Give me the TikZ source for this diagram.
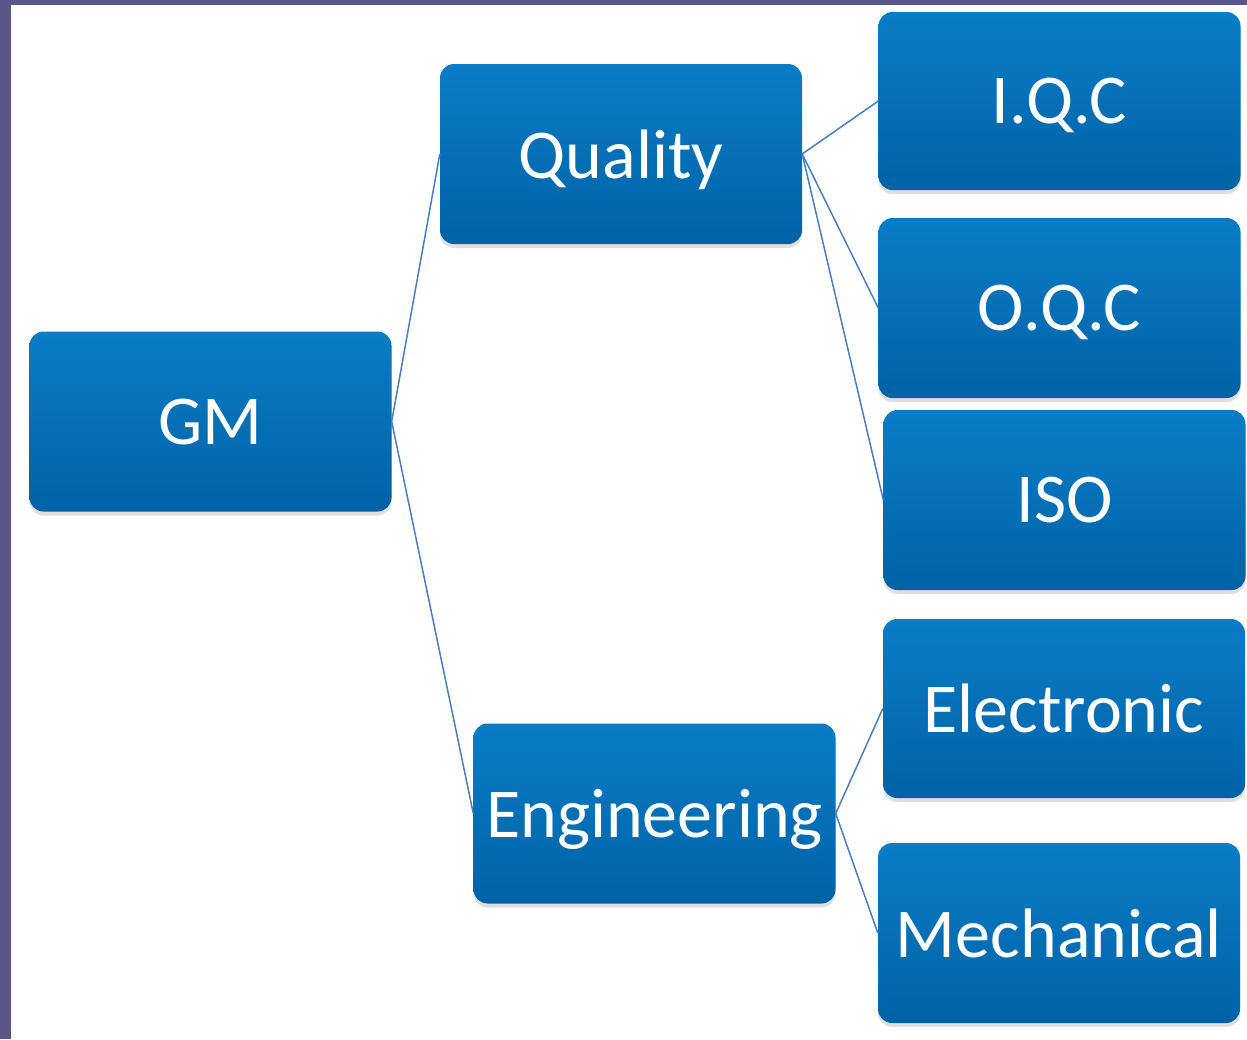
\documentclass[tikz,border=0pt]{standalone}
\usepackage{fontspec}
\setmainfont{Carlito}
\usetikzlibrary{shadows}
\definecolor{bgpurple}{HTML}{5A568A}
\definecolor{boxtop}{HTML}{0A7DC6}
\definecolor{boxbot}{HTML}{0062A6}
\definecolor{linkblue}{HTML}{4A7FBF}
\tikzset{
  orgbox/.style={rectangle, rounded corners=14pt, minimum width=#1, minimum height=180pt,
    inner sep=0pt, top color=boxtop, bottom color=boxbot, draw=none,
    text=white, font=\fontsize{70}{78}\selectfont, text depth=0pt,
    drop shadow={opacity=0.25, shadow xshift=0pt, shadow yshift=-4pt}},
  orgbox/.default=362pt,
  link/.style={draw=linkblue, line width=1.5pt}
}
\begin{document}
\begin{tikzpicture}[x=1pt,y=-1pt]
\useasboundingbox (0,0) rectangle (1247,1039);
\fill[bgpurple] (0,0) rectangle (1247,1039);
\fill[white] (11,5) rectangle (1247,1039);
\node[orgbox] (gm) at (210.5,421.5) {GM};
\node[orgbox] (quality) at (621,154) {Quality};
\node[orgbox] (eng) at (654.5,813.5) {Engineering};
\node[orgbox, minimum height=178pt] (iqc) at (1059.5,101) {I.Q.C};
\node[orgbox] (oqc) at (1059.5,308) {O.Q.C};
\node[orgbox] (iso) at (1064.5,500) {ISO};
\node[orgbox, minimum height=179pt] (elec) at (1064,708.5) {Electronic};
\node[orgbox] (mech) at (1059,933) {Mechanical};
\draw[link] (gm.east) -- (quality.west);
\draw[link] (gm.east) -- (eng.west);
\draw[link] (quality.east) -- (iqc.west);
\draw[link] (quality.east) -- (oqc.west);
\draw[link] (quality.east) -- (iso.west);
\draw[link] (eng.east) -- (elec.west);
\draw[link] (eng.east) -- (mech.west);
\end{tikzpicture}
\end{document}
